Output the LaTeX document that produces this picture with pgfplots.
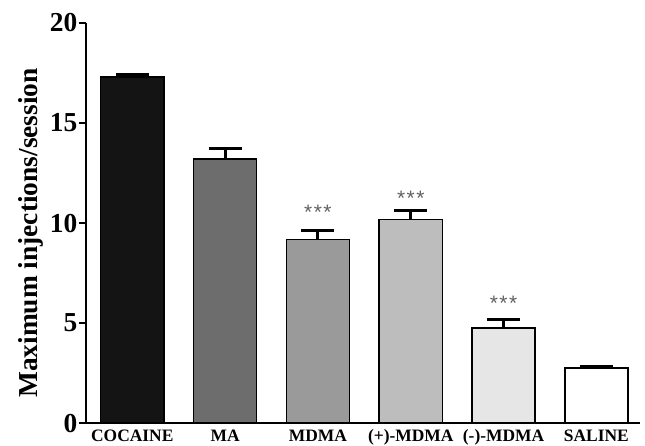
\documentclass[border=0pt]{standalone}
\usepackage{pgfplots}
\pgfplotsset{compat=1.18}
\usepackage{fontspec}
\setmainfont{Liberation Serif}
\setsansfont{Liberation Sans}
\pgfplotsset{
  errb/.style={error bars/.cd, y dir=plus, y explicit,
    error bar style={line width=3pt, black},
    error mark options={line width=3pt, mark size=16.5bp, rotate=90}}
}
\newcommand{\stars}{\sffamily\fontsize{21}{21}\selectfont *\hspace{1.5bp}*\hspace{1.5bp}*}
\begin{document}
\begin{tikzpicture}[x=1bp,y=1bp]
\begin{axis}[
  scale only axis,
  width=554bp, height=400bp,
  xmin=-0.5, xmax=5.47,
  ymin=0, ymax=20,
  axis lines*=left,
  axis line style={line width=2pt},
  ytick={0,5,10,15,20},
  xtick={0,1,2,3,4,5},
  xticklabels={COCAINE,MA,MDMA,(+)-MDMA,(-)-MDMA,SALINE},
  x tick label style={font=\fontsize{17.5}{17.5}\selectfont\bfseries, yshift=4bp},
  y tick label style={font=\fontsize{27.5}{27.5}\selectfont\bfseries, xshift=2bp},
  /pgf/number format/assume math mode=true,
  major x tick style={draw=none},
  major y tick style={line width=1.8pt, black},
  tick align=outside,
  major tick length=7bp,
  ylabel={Maximum injections/session},
  ylabel style={font=\fontsize{27.5}{27.5}\selectfont\bfseries, at={(ticklabel cs:0.475)}},
  bar shift=0pt,
  bar width=0.68,
  clip=false,
]
\addplot[ybar, fill=black!92, draw=black, line width=1.5pt, errb]
  coordinates {(0,17.3) +- (0,0.12)};
\addplot[ybar, fill={rgb,255:red,109;green,109;blue,109}, draw=black, line width=1.5pt, errb]
  coordinates {(1,13.2) +- (0,0.55)};
\addplot[ybar, fill={rgb,255:red,154;green,154;blue,154}, draw=black, line width=1.5pt, errb]
  coordinates {(2,9.18) +- (0,0.47)};
\addplot[ybar, fill={rgb,255:red,189;green,189;blue,189}, draw=black, line width=1.5pt, errb]
  coordinates {(3,10.18) +- (0,0.47)};
\addplot[ybar, fill={rgb,255:red,230;green,230;blue,230}, draw=black, line width=1.5pt, errb]
  coordinates {(4,4.75) +- (0,0.45)};
\addplot[ybar, fill=white, draw=black, line width=1.5pt, errb]
  coordinates {(5,2.75) +- (0,0.1)};
\node[black!62] at (axis cs:2,10.55) {\stars};
\node[black!62] at (axis cs:3,11.25) {\stars};
\node[black!62] at (axis cs:4,6.0) {\stars};
\coordinate (bbsw) at (rel axis cs:-0.155,-0.055);
\coordinate (bbne) at (rel axis cs:1.009,1.0575);
\end{axis}
\pgfresetboundingbox
\path[use as bounding box] (bbsw) rectangle (bbne);
\end{tikzpicture}
\end{document}
